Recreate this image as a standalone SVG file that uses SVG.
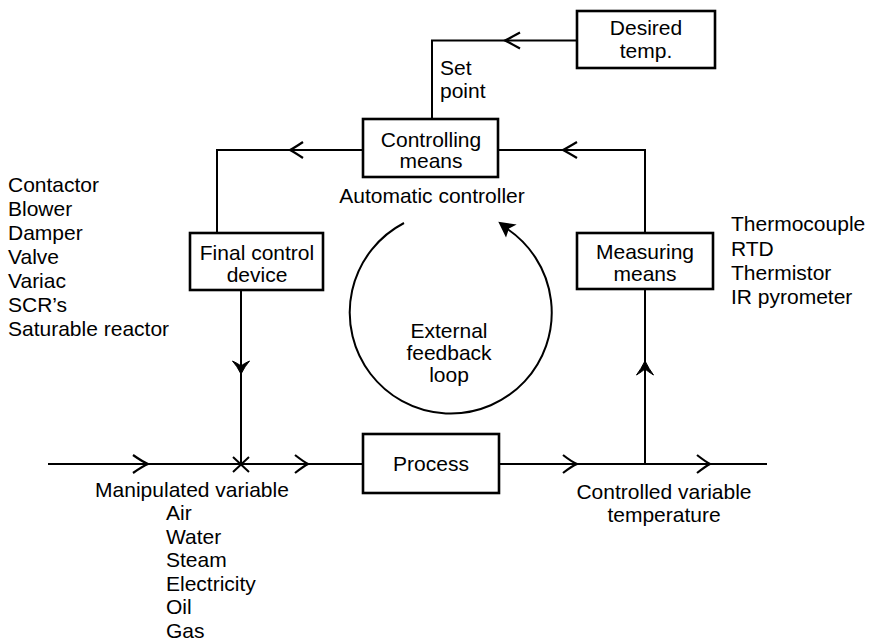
<svg xmlns="http://www.w3.org/2000/svg" width="871" height="644" viewBox="0 0 871 644">
<style>
text{font-family:"Liberation Sans",Arial,Helvetica,sans-serif;font-size:21px;fill:#000}
.c{text-anchor:middle}
.box{fill:#fff;stroke:#000;stroke-width:2.6}
.ln{fill:none;stroke:#000;stroke-width:2}
.ah{fill:none;stroke:#000;stroke-width:2.2;stroke-linejoin:miter}
.fh{fill:#000;stroke:#000;stroke-width:1}
</style>
<rect width="871" height="644" fill="#fff"/>
<g id="connectors">
  <polyline class="ln" points="577,40.5 432,40.5 432,119"/>
  <polyline class="ln" points="363,150 217,150 217,233"/>
  <polyline class="ln" points="498,150 645,150 645,233"/>
  <line class="ln" x1="241" y1="290" x2="241" y2="464"/>
  <line class="ln" x1="645" y1="289" x2="645" y2="464"/>
  <line class="ln" x1="48" y1="464" x2="363" y2="464"/>
  <line class="ln" x1="499" y1="464" x2="767" y2="464"/>
  <path class="ah" d="M520,32.5 Q510,38 505,40.5 Q510,43 520,48.5"/>
  <path class="ah" d="M303,142 Q294,148 290,150 Q294,152 303,158"/>
  <path class="ah" d="M577,142 Q567,148 563,150 Q567,152 577,158"/>
  <path class="ah" d="M133,455 Q143,462 148,464 Q143,466 133,473"/>
  <path class="ah" d="M295,455 Q304,462 308,464 Q304,466 295,473"/>
  <path class="ah" d="M563,455 Q572,462 577,464 Q572,466 563,473"/>
  <path class="ah" d="M697,455 Q706,462 710,464 Q706,466 697,473"/>
  <path class="fh" d="M241,374 Q237,366 232.5,361 Q238,363.5 241,366 Q244,363.5 249.5,361 Q245,366 241,374 Z"/>
  <path class="fh" d="M645,361 Q649,369 653.5,375 Q648,371.5 645,369 Q642,371.5 636.5,375 Q641,369 645,361 Z"/>
  <path class="ln" d="M233,457 L249,472 M233,472 L249,457"/>
</g>
<g id="loop">
  <path class="ln" d="M404,223 A101,101 0 1 0 506,228"/>
  <path d="M498.3,221.7 L516.7,224.5 L509,228.5 L506,237.5 Z" fill="#000"/>
  <text class="c" x="449" y="338">External</text>
  <text class="c" x="449" y="360">feedback</text>
  <text class="c" x="449" y="382">loop</text>
</g>
<g id="desired">
  <rect class="box" x="577" y="11" width="138" height="57"/>
  <text class="c" x="646" y="35">Desired</text>
  <text class="c" x="646" y="58">temp.</text>
</g>
<g id="setpoint">
  <text x="440" y="75">Set</text>
  <text x="440" y="98">point</text>
</g>
<g id="controlling">
  <rect class="box" x="363" y="119" width="135" height="58"/>
  <text class="c" x="431" y="147">Controlling</text>
  <text class="c" x="431" y="168">means</text>
  <text class="c" x="432" y="203">Automatic controller</text>
</g>
<g id="final">
  <rect class="box" x="190" y="233" width="133" height="57"/>
  <text class="c" x="257" y="260">Final control</text>
  <text class="c" x="257" y="282">device</text>
</g>
<g id="final-list">
  <text x="8" y="192">Contactor</text>
  <text x="8" y="216">Blower</text>
  <text x="8" y="240">Damper</text>
  <text x="8" y="264">Valve</text>
  <text x="8" y="288">Variac</text>
  <text x="8" y="312">SCR’s</text>
  <text x="8" y="336">Saturable reactor</text>
</g>
<g id="measuring">
  <rect class="box" x="577" y="233" width="136" height="56"/>
  <text class="c" x="645" y="259">Measuring</text>
  <text class="c" x="645" y="281">means</text>
</g>
<g id="measuring-list">
  <text x="731" y="231">Thermocouple</text>
  <text x="731" y="256">RTD</text>
  <text x="731" y="280">Thermistor</text>
  <text x="731" y="304">IR pyrometer</text>
</g>
<g id="process">
  <rect class="box" x="363" y="434" width="136" height="59"/>
  <text class="c" x="431" y="471">Process</text>
</g>
<g id="manipulated">
  <text class="c" x="192" y="497">Manipulated variable</text>
  <text x="166" y="520">Air</text>
  <text x="166" y="543.5">Water</text>
  <text x="166" y="567">Steam</text>
  <text x="166" y="590.5">Electricity</text>
  <text x="166" y="614">Oil</text>
  <text x="166" y="637.5">Gas</text>
</g>
<g id="controlled">
  <text class="c" x="664" y="499">Controlled variable</text>
  <text class="c" x="664" y="522">temperature</text>
</g>
</svg>
